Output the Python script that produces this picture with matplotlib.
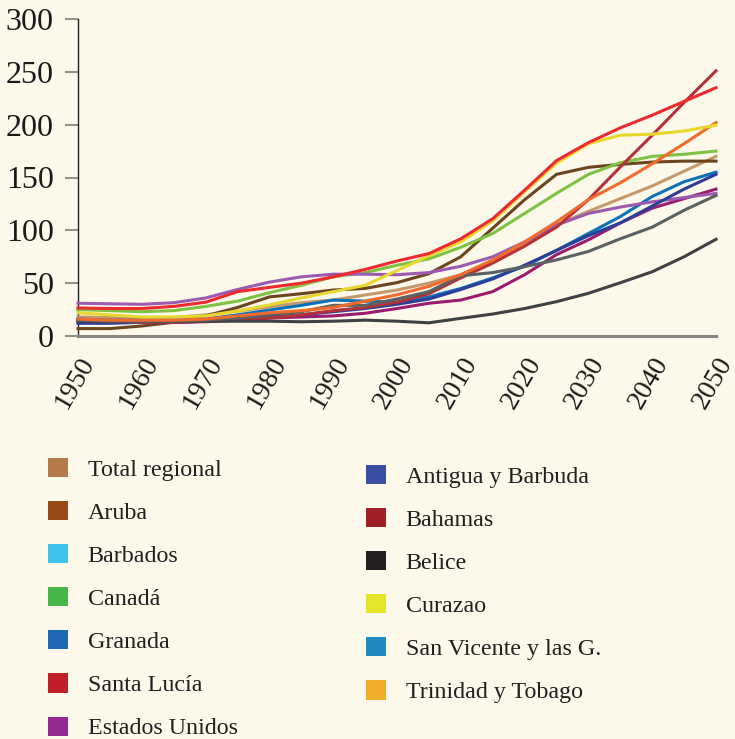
import matplotlib
matplotlib.use("Agg")
import matplotlib.pyplot as plt
from matplotlib.patches import Patch

years = list(range(1950, 2051, 5))

total_regional = [18, 17.5, 17, 17.5, 20, 23.5, 27.7, 31.5, 34, 38.8, 43.5, 50, 58, 70, 86, 105, 118, 130, 142, 156, 170]
aruba = [7, 7, 9.5, 13, 19, 27, 37, 40, 43.5, 45, 50.5, 59, 75, 102, 129, 153, 159.6, 162.4, 164.6, 165.5, 165.5]
barbados = [26.5, 26, 26, 28, 32, 42, 46, 50, 56, 63, 71, 78, 92, 111, 138, 166, 183, 197, 209, 222, 235]
canada = [25, 24, 23, 24, 28, 33, 41, 48, 56, 60, 67, 73, 84, 97, 116, 135, 153, 164, 170, 172, 175]
granada = [16, 15, 15, 15, 16, 20, 24.6, 29, 34, 33, 32, 37, 45, 55, 66, 81, 97, 113, 132, 146, 155]
santa_lucia = [14, 13, 13, 13, 13.5, 15, 17, 18, 19, 21.5, 26, 31, 34, 42, 58, 77, 91, 107, 121, 130, 139]
estados_unidos = [31, 30.5, 30, 31.5, 36, 44, 51, 56, 58.5, 58.5, 58, 60, 66, 75, 89, 105, 116, 122, 127, 131, 135]
antigua = [12, 12, 13, 13, 14, 16, 18, 20, 23, 26, 30, 35, 44, 54, 67, 81, 95, 107, 123, 139, 153]
bahamas = [15, 14, 13, 13, 14, 15, 17, 20, 24, 27, 32, 40, 55, 69, 85, 103, 129, 160, 190, 221, 251]
belice = [14, 14, 14, 14, 14, 14, 14, 13.5, 14, 15, 14, 12.5, 16.7, 20.8, 26, 32.5, 40.4, 50.4, 60.8, 75, 91.5]
curazao = [22, 20, 18, 18, 19, 23.7, 29.5, 36, 42, 48, 62, 76, 89, 109, 136.5, 163.5, 182, 190, 191, 194, 199.5]
san_vicente = [15, 14, 14, 14, 15, 17, 20, 23, 29, 29, 35, 42, 57, 60, 65.6, 72, 80, 92, 103, 119, 133]
trinidad = [16, 15, 15, 15, 16, 19, 22, 24, 27, 33, 39, 47, 58, 72, 89, 108, 129, 145, 163, 182, 202]

yticks = [0, 50, 100, 150, 200, 250, 300]
xticks = list(range(1950, 2051, 10))

# (label, data, line colour, legend colour)
series = [
    ("Total regional", total_regional, "#C49A6C", "#B57A4C"),
    ("Aruba", aruba, "#6B4420", "#964B17"),
    ("Barbados", barbados, "#EE2A2E", "#3EC4EC"),
    ("Canadá", canada, "#7DC242", "#47B649"),
    ("Granada", granada, "#0B72BA", "#1F68B3"),
    ("Santa Lucía", santa_lucia, "#9B1C6E", "#C1202A"),
    ("Estados Unidos", estados_unidos, "#9C5BB0", "#94298F"),
    ("Antigua y Barbuda", antigua, "#2E3D98", "#3A4FA3"),
    ("Bahamas", bahamas, "#B5313A", "#9E1F24"),
    ("Belice", belice, "#3F4142", "#231F20"),
    ("Curazao", curazao, "#E8D82E", "#E4E42A"),
    ("San Vicente y las G.", san_vicente, "#5A6162", "#1F8BC0"),
    ("Trinidad y Tobago", trinidad, "#F26A2C", "#F2AC2C"),
]

bg = "#FCF8EA"
plt.rcParams['font.family'] = ['Liberation Serif', 'DejaVu Serif']

fig = plt.figure(figsize=(7.35, 7.39), dpi=100, facecolor=bg)
ax = fig.add_axes([78/735, 1-336/739, (716-78)/735, 317/739])
ax.set_facecolor(bg)

zorder_map = {"Barbados": 5, "Curazao": 4}
for name, data, lc, _ in series:
    ax.plot(years, data, color=lc, lw=2.2, solid_joinstyle='miter',
            zorder=zorder_map.get(name, 3), clip_on=False)

ax.set_xlim(1950, 2050)
ax.set_ylim(0, 300)
ax.set_yticks(yticks)
ax.set_yticklabels([str(v) for v in yticks], fontsize=23, color="#1a1a1a")
ax.set_xticks(xticks)
ax.set_xticklabels([str(v) for v in xticks], rotation=60, ha='right',
                   rotation_mode='anchor', fontsize=20, color="#1a1a1a")
ax.tick_params(axis='y', length=9.5, width=1.3, color="#8a8580", pad=8)
ax.tick_params(axis='x', length=0, pad=12)
for lbl in ax.get_xticklabels():
    lbl.set_x(lbl.get_position()[0])

for s in ['top', 'right']:
    ax.spines[s].set_visible(False)
ax.spines['left'].set_color("#231F20")
ax.spines['left'].set_linewidth(1.0)
ax.spines['bottom'].set_color("#8a8580")
ax.spines['bottom'].set_linewidth(2.2)
ax.spines['bottom'].set_zorder(6)

handles = [Patch(facecolor=c, edgecolor='none', label=n) for n, _, _, c in series]
left = handles[:7]
right = handles[7:]
common = dict(frameon=False, fontsize=17.3, handlelength=0.85, handleheight=0.85,
              handletextpad=0.8, labelspacing=0.84, borderpad=0, borderaxespad=0,
              loc='upper left', labelcolor="#231F20")
leg1 = fig.legend(handles=left, bbox_to_anchor=(48/735, 1-458/739), **common)
leg2 = fig.legend(handles=right, bbox_to_anchor=(366/735, 1-465/739), **common)

fig.savefig("out.png", dpi=100, facecolor=bg)
